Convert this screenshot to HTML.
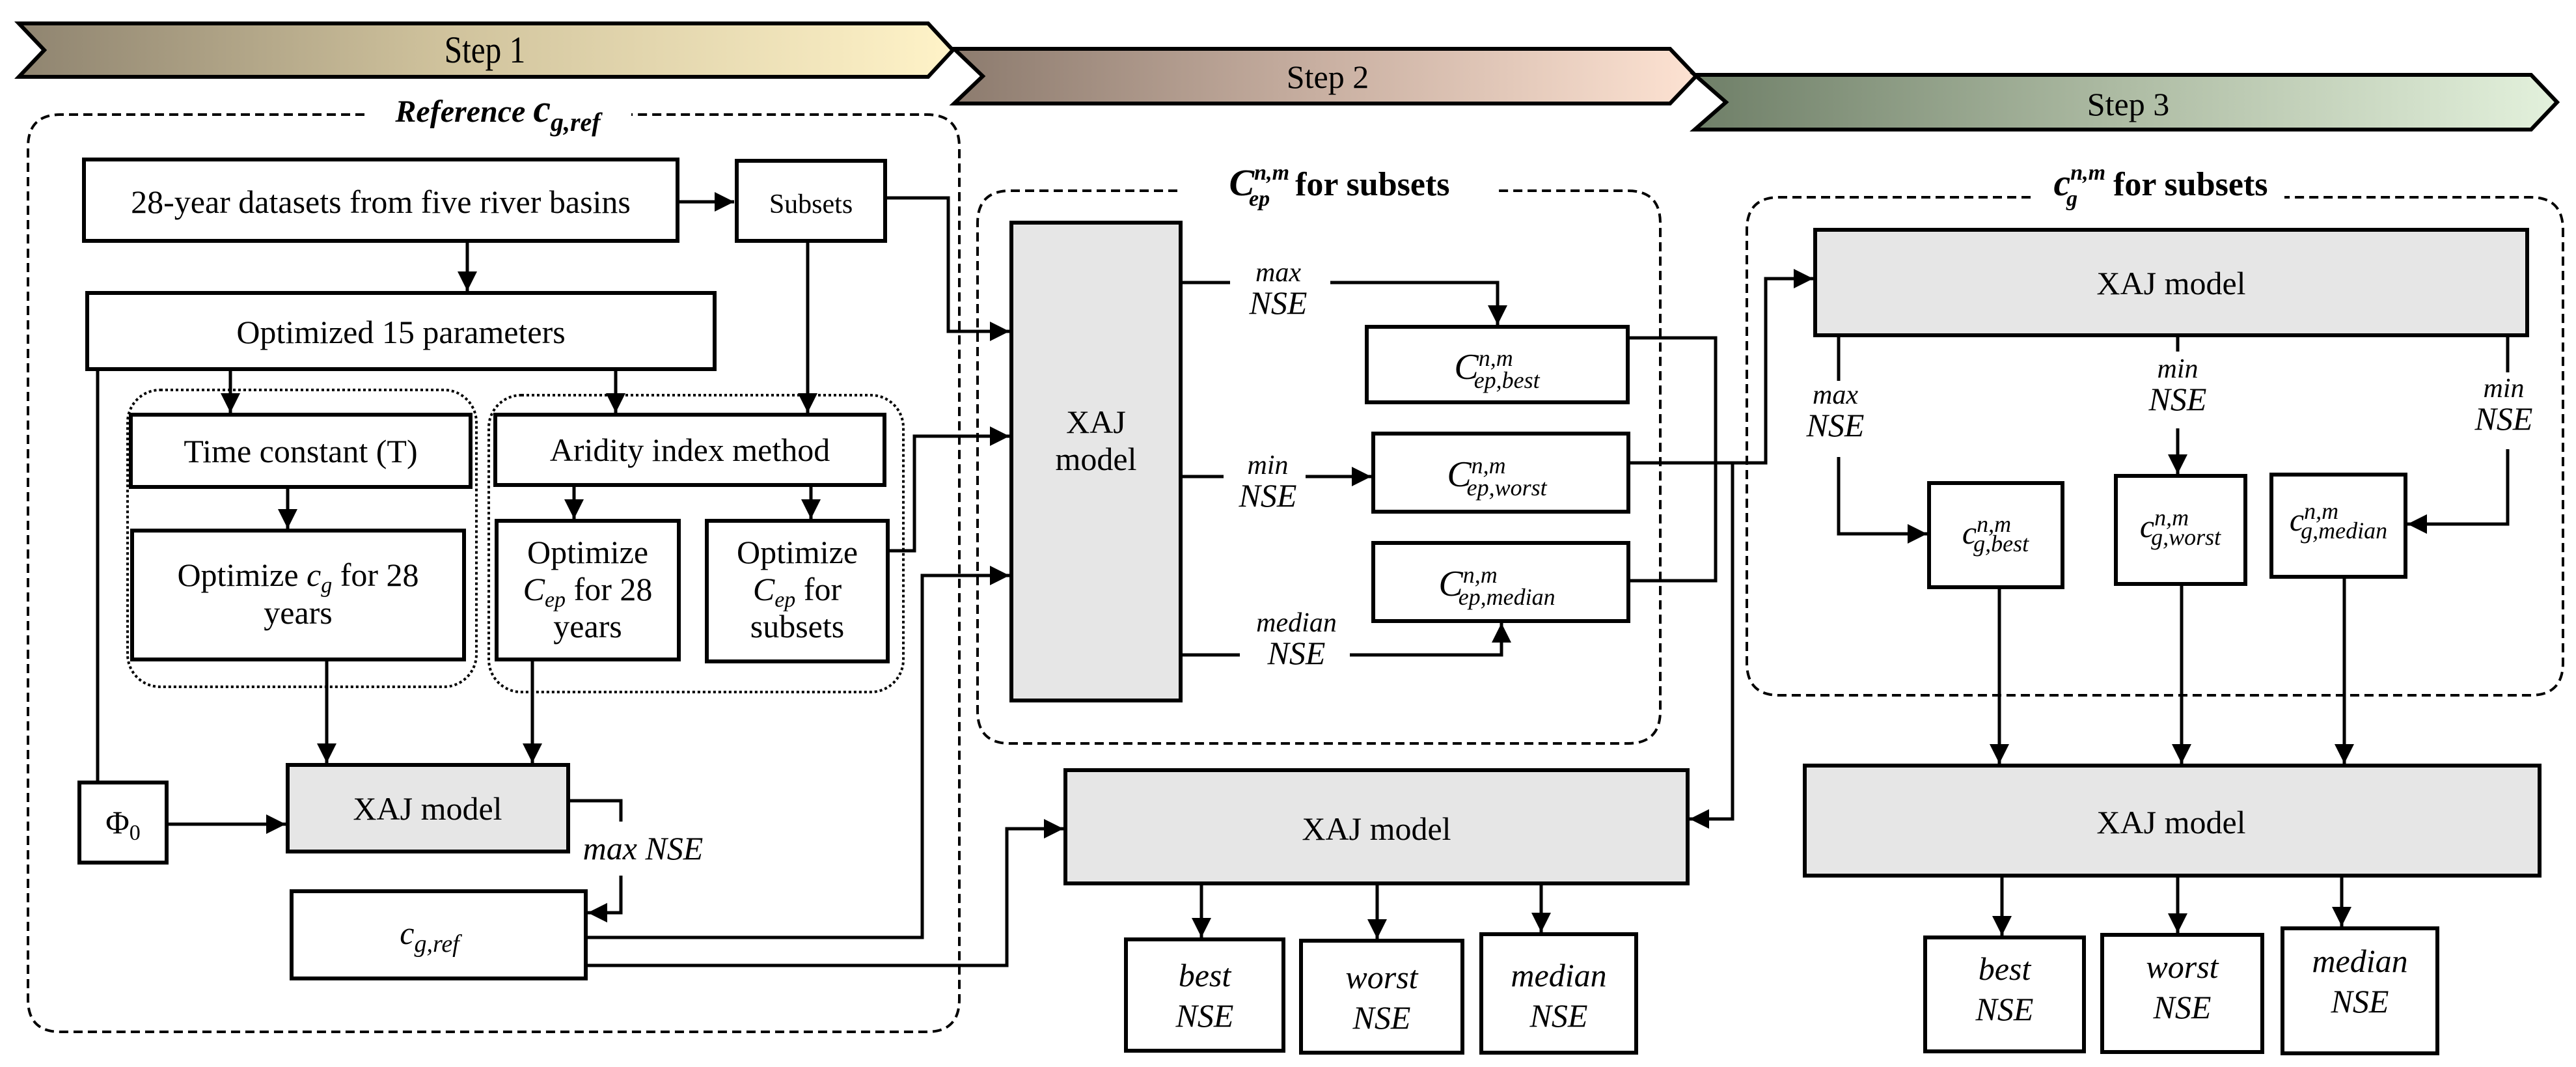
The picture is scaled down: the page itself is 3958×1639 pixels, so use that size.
<!DOCTYPE html>
<html><head><meta charset="utf-8"><style>
html,body{margin:0;padding:0;background:#fff;}
svg{display:block;font-family:'Liberation Serif','DejaVu Serif',serif;}
svg text{font-family:'Liberation Serif','DejaVu Serif',serif;fill:#000;}
.it{font-style:italic;}
</style></head><body>
<svg width="3958" height="1639" viewBox="0 0 3958 1639" xmlns="http://www.w3.org/2000/svg" font-family="Liberation Serif, DejaVu Serif, serif">
<defs>
<linearGradient id="g1" x1="0" x2="1" y1="0" y2="0"><stop offset="0" stop-color="#8f8470"/><stop offset="0.45" stop-color="#cfc29c"/><stop offset="1" stop-color="#fff3c8"/></linearGradient>
<linearGradient id="g2" x1="0" x2="1" y1="0" y2="0"><stop offset="0" stop-color="#8c7b6e"/><stop offset="0.5" stop-color="#c9b0a2"/><stop offset="1" stop-color="#fde2d2"/></linearGradient>
<linearGradient id="g3" x1="0" x2="1" y1="0" y2="0"><stop offset="0" stop-color="#6f7f68"/><stop offset="0.5" stop-color="#aebca4"/><stop offset="1" stop-color="#e3f1dc"/></linearGradient>
<marker id="a" viewBox="0 0 10 10" refX="10" refY="5" markerWidth="6" markerHeight="6" markerUnits="strokeWidth" orient="auto"><path d="M0,0 L10,5 L0,10 z" fill="#000"/></marker>
</defs>

<!-- Step banners -->
<polygon points="1466,75 2566,75 2606,117 2566,159 1466,159 1510,117" fill="url(#g2)" stroke="#000" stroke-width="6"/>
<polygon points="2604,115 3889,115 3929,157 3889,199 2604,199 2652,157" fill="url(#g3)" stroke="#000" stroke-width="6"/>
<polygon points="29,36 1426,36 1464,77 1426,118 29,118 68,77" fill="url(#g1)" stroke="#000" stroke-width="6"/>
<text x="745" y="96" font-size="58" text-anchor="middle" transform="translate(745,0) scale(0.85,1) translate(-745,0)">Step 1</text>
<text x="2040" y="135" font-size="50" text-anchor="middle">Step 2</text>
<text x="3270" y="177" font-size="50" text-anchor="middle">Step 3</text>

<!-- Step 1 dashed container -->
<path d="M560,176 L93,176 Q43,176 43,226 L43,1535 Q43,1585 93,1585 L1424,1585 Q1474,1585 1474,1535 L1474,226 Q1474,176 1424,176 L970,176" fill="none" stroke="#000" stroke-width="4" stroke-dasharray="14,8"/>
<text x="765" y="187" font-size="48" font-weight="bold" class="it" text-anchor="middle">Reference <tspan font-size="60">c</tspan><tspan font-size="40" dy="14">g,ref</tspan></text>

<!-- dotted groups -->
<rect x="196" y="599" width="536" height="456" rx="50" fill="none" stroke="#000" stroke-width="4" stroke-dasharray="4,4"/>
<rect x="751" y="607" width="637" height="456" rx="50" fill="none" stroke="#000" stroke-width="4" stroke-dasharray="4,4"/>

<g fill="#fff" stroke="#000" stroke-width="6">
<rect x="129" y="245" width="912" height="125"/>
<rect x="1132" y="247" width="228" height="123"/>
<rect x="134" y="450" width="964" height="117"/>
<rect x="201" y="637" width="522" height="111"/>
<rect x="761" y="637" width="598" height="108"/>
<rect x="203" y="815" width="510" height="198"/>
<rect x="763" y="800" width="280" height="213"/>
<rect x="1086" y="800" width="278" height="216"/>
<rect x="442" y="1175" width="431" height="133" fill="#e6e6e6"/>
<rect x="122" y="1202" width="134" height="123"/>
<rect x="448" y="1369" width="452" height="134"/>
</g>
<g font-size="50" text-anchor="middle">
<text x="585" y="327">28-year datasets from five river basins</text>
<text x="1246" y="327" font-size="42">Subsets</text>
<text x="616" y="527">Optimized 15 parameters</text>
<text x="462" y="710">Time constant (T)</text>
<text x="1060" y="708">Aridity index method</text>
<text x="458" y="900">Optimize <tspan class="it">c</tspan><tspan class="it" font-size="34" dy="10">g</tspan><tspan dy="-10"> for 28</tspan></text>
<text x="458" y="958">years</text>
<text x="903" y="865">Optimize</text>
<text x="903" y="922"><tspan class="it">C</tspan><tspan class="it" font-size="34" dy="10">ep</tspan><tspan dy="-10"> for 28</tspan></text>
<text x="903" y="979">years</text>
<text x="1225" y="865">Optimize</text>
<text x="1225" y="922"><tspan class="it">C</tspan><tspan class="it" font-size="34" dy="10">ep</tspan><tspan dy="-10"> for</tspan></text>
<text x="1225" y="979">subsets</text>
<text x="657" y="1259">XAJ model</text>
<text x="189" y="1280">Φ<tspan font-size="34" dy="10">0</tspan></text>
<text x="660" y="1450" class="it">c<tspan font-size="38" dy="12">g,ref</tspan></text>
<text x="988" y="1320" class="it" text-anchor="middle">max NSE</text>
</g>

<g fill="none" stroke="#000" stroke-width="5">
<line x1="1044" y1="310" x2="1128" y2="310" marker-end="url(#a)"/>
<line x1="718" y1="372" x2="718" y2="447" marker-end="url(#a)"/>
<line x1="354" y1="569" x2="354" y2="634" marker-end="url(#a)"/>
<line x1="946" y1="569" x2="946" y2="634" marker-end="url(#a)"/>
<line x1="1241" y1="372" x2="1241" y2="634" marker-end="url(#a)"/>
<line x1="442" y1="750" x2="442" y2="812" marker-end="url(#a)"/>
<line x1="882" y1="747" x2="882" y2="797" marker-end="url(#a)"/>
<line x1="1246" y1="747" x2="1246" y2="797" marker-end="url(#a)"/>
<line x1="502" y1="1015" x2="502" y2="1172" marker-end="url(#a)"/>
<line x1="818" y1="1015" x2="818" y2="1172" marker-end="url(#a)"/>
<polyline points="150,569 150,1202"/>
<line x1="258" y1="1266" x2="439" y2="1266" marker-end="url(#a)"/>
<polyline points="875,1230 954,1230 954,1262"/>
<polyline points="954,1345 954,1402 903,1402" marker-end="url(#a)"/>
<polyline points="1362,304 1457,304 1457,509 1551,509" marker-end="url(#a)"/>
<polyline points="1366,846 1405,846 1405,670 1551,670" marker-end="url(#a)"/>
<polyline points="902,1440 1417,1440 1417,884 1551,884" marker-end="url(#a)"/>
<polyline points="902,1483 1547,1483 1547,1273 1634,1273" marker-end="url(#a)"/>
</g>

<!-- Step 2 -->
<path d="M1809,293 L1552,293 Q1502,293 1502,343 L1502,1092 Q1502,1142 1552,1142 L2501,1142 Q2551,1142 2551,1092 L2551,343 Q2551,293 2501,293 L2299,293" fill="none" stroke="#000" stroke-width="4" stroke-dasharray="14,8"/>
<text x="2058" y="300" font-size="52" font-weight="bold" text-anchor="middle"><tspan class="it" font-size="58">C</tspan><tspan class="it" font-size="34" dy="-24">n,m</tspan><tspan class="it" font-size="34" dx="-62" dy="40">ep</tspan><tspan dx="26" dy="-16"> for subsets</tspan></text>
<g fill="#fff" stroke="#000" stroke-width="6">
<rect x="1554" y="342" width="260" height="734" fill="#e6e6e6"/>
<rect x="2100" y="502" width="401" height="116"/>
<rect x="2110" y="666" width="392" height="120"/>
<rect x="2110" y="834" width="392" height="120"/>
<rect x="1637" y="1183" width="956" height="174" fill="#e6e6e6"/>
<rect x="1730" y="1443" width="242" height="171"/>
<rect x="1999" y="1445" width="248" height="172"/>
<rect x="2276" y="1435" width="238" height="182"/>
</g>
<g font-size="50" text-anchor="middle">
<text x="1684" y="665">XAJ</text>
<text x="1684" y="722">model</text>
<text x="1964" y="432" class="it" font-size="42">max</text>
<text x="1964" y="482" class="it">NSE</text>
<text x="1948" y="728" class="it" font-size="42">min</text>
<text x="1948" y="778" class="it">NSE</text>
<text x="1992" y="970" class="it" font-size="42">median</text>
<text x="1992" y="1020" class="it">NSE</text>
<text x="2300" y="582" class="it"><tspan font-size="56">C</tspan><tspan font-size="36" dy="-20">n,m</tspan><tspan font-size="36" dx="-60" dy="34">ep,best</tspan></text>
<text x="2300" y="747" class="it"><tspan font-size="56">C</tspan><tspan font-size="36" dy="-20">n,m</tspan><tspan font-size="36" dx="-60" dy="34">ep,worst</tspan></text>
<text x="2300" y="915" class="it"><tspan font-size="56">C</tspan><tspan font-size="36" dy="-20">n,m</tspan><tspan font-size="36" dx="-60" dy="34">ep,median</tspan></text>
<text x="2115" y="1290">XAJ model</text>
<text x="1851" y="1515" class="it">best</text>
<text x="1851" y="1577" class="it">NSE</text>
<text x="2123" y="1518" class="it">worst</text>
<text x="2123" y="1580" class="it">NSE</text>
<text x="2395" y="1515" class="it">median</text>
<text x="2395" y="1577" class="it">NSE</text>
</g>
<g fill="none" stroke="#000" stroke-width="5">
<line x1="1816" y1="434" x2="1890" y2="434"/>
<polyline points="2044,434 2301,434 2301,499" marker-end="url(#a)"/>
<line x1="1816" y1="732" x2="1880" y2="732"/>
<line x1="2006" y1="732" x2="2107" y2="732" marker-end="url(#a)"/>
<line x1="1816" y1="1006" x2="1905" y2="1006"/>
<polyline points="2074,1006 2307,1006 2307,957" marker-end="url(#a)"/>
<polyline points="2504,519 2636,519 2636,892 2504,892"/>
<polyline points="2504,711 2713,711 2713,428 2786,428" marker-end="url(#a)"/>
<polyline points="2662,711 2662,1258 2596,1258" marker-end="url(#a)"/>
<line x1="1846" y1="1359" x2="1846" y2="1440" marker-end="url(#a)"/>
<line x1="2116" y1="1359" x2="2116" y2="1442" marker-end="url(#a)"/>
<line x1="2368" y1="1359" x2="2368" y2="1432" marker-end="url(#a)"/>
</g>

<!-- Step 3 -->
<path d="M3120,303 L2734,303 Q2684,303 2684,353 L2684,1018 Q2684,1068 2734,1068 L3888,1068 Q3938,1068 3938,1018 L3938,353 Q3938,303 3888,303 L3510,303" fill="none" stroke="#000" stroke-width="4" stroke-dasharray="14,8"/>
<text x="3320" y="300" font-size="52" font-weight="bold" text-anchor="middle"><tspan class="it" font-size="58">c</tspan><tspan class="it" font-size="34" dy="-24">n,m</tspan><tspan class="it" font-size="34" dx="-60" dy="40">g</tspan><tspan dx="42" dy="-16"> for subsets</tspan></text>
<g fill="#fff" stroke="#000" stroke-width="6">
<rect x="2789" y="353" width="1094" height="162" fill="#e6e6e6"/>
<rect x="2964" y="742" width="205" height="160"/>
<rect x="3251" y="731" width="199" height="166"/>
<rect x="3490" y="729" width="206" height="157"/>
<rect x="2773" y="1176" width="1129" height="169" fill="#e6e6e6"/>
<rect x="2958" y="1440" width="244" height="175"/>
<rect x="3230" y="1436" width="246" height="180"/>
<rect x="3507" y="1426" width="238" height="192"/>
</g>
<g font-size="50" text-anchor="middle">
<text x="3336" y="452">XAJ model</text>
<text x="3336" y="1280">XAJ model</text>
<text x="2820" y="620" class="it" font-size="42">max</text>
<text x="2820" y="670" class="it">NSE</text>
<text x="3346" y="580" class="it" font-size="42">min</text>
<text x="3346" y="630" class="it">NSE</text>
<text x="3847" y="610" class="it" font-size="42">min</text>
<text x="3847" y="660" class="it">NSE</text>
<text x="3066" y="835" class="it"><tspan font-size="50">c</tspan><tspan font-size="36" dy="-18">n,m</tspan><tspan font-size="36" dx="-58" dy="30">g,best</tspan></text>
<text x="3350" y="825" class="it"><tspan font-size="50">c</tspan><tspan font-size="36" dy="-18">n,m</tspan><tspan font-size="36" dx="-58" dy="30">g,worst</tspan></text>
<text x="3593" y="815" class="it"><tspan font-size="50">c</tspan><tspan font-size="36" dy="-18">n,m</tspan><tspan font-size="36" dx="-58" dy="30">g,median</tspan></text>
<text x="3080" y="1505" class="it">best</text>
<text x="3080" y="1567" class="it">NSE</text>
<text x="3353" y="1502" class="it">worst</text>
<text x="3353" y="1564" class="it">NSE</text>
<text x="3626" y="1493" class="it">median</text>
<text x="3626" y="1555" class="it">NSE</text>
</g>
<g fill="none" stroke="#000" stroke-width="5">
<line x1="2825" y1="517" x2="2825" y2="585"/>
<polyline points="2825,702 2825,820 2961,820" marker-end="url(#a)"/>
<line x1="3346" y1="517" x2="3346" y2="540"/>
<line x1="3346" y1="658" x2="3346" y2="728" marker-end="url(#a)"/>
<line x1="3853" y1="517" x2="3853" y2="572"/>
<polyline points="3853,690 3853,805 3699,805" marker-end="url(#a)"/>
<line x1="3072" y1="904" x2="3072" y2="1173" marker-end="url(#a)"/>
<line x1="3352" y1="899" x2="3352" y2="1173" marker-end="url(#a)"/>
<line x1="3602" y1="888" x2="3602" y2="1173" marker-end="url(#a)"/>
<line x1="3076" y1="1347" x2="3076" y2="1437" marker-end="url(#a)"/>
<line x1="3346" y1="1347" x2="3346" y2="1433" marker-end="url(#a)"/>
<line x1="3598" y1="1347" x2="3598" y2="1423" marker-end="url(#a)"/>
</g>
</svg>
</body></html>
